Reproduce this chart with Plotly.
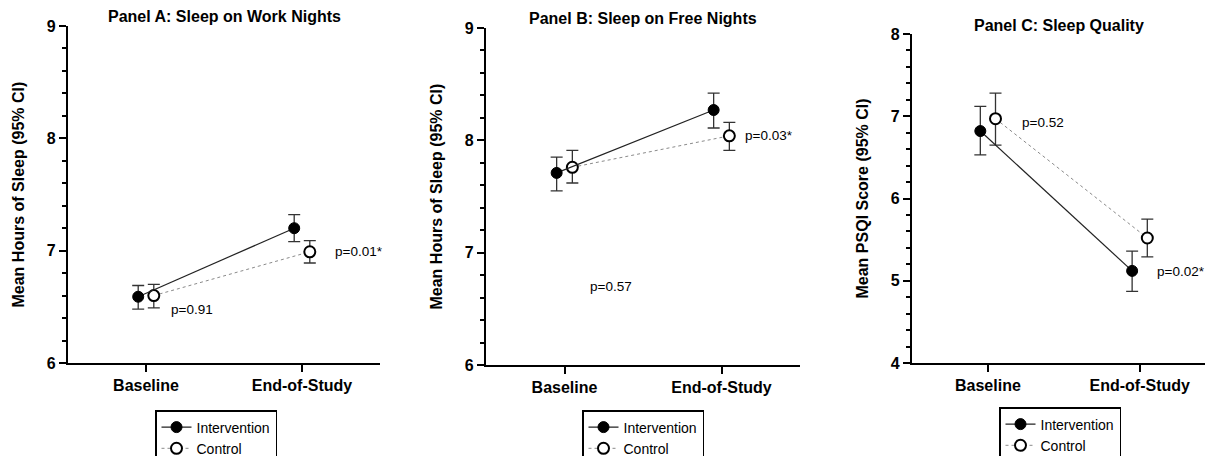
import numpy as np
import plotly.graph_objects as go

# ---- data ----
timepoints = ['Baseline', 'End-of-Study']

a_int_mean = [6.59, 7.20]
a_int_lo = [6.48, 7.08]
a_int_hi = [6.69, 7.32]
a_ctl_mean = [6.60, 6.99]
a_ctl_lo = [6.49, 6.89]
a_ctl_hi = [6.70, 7.09]

b_int_mean = [7.71, 8.27]
b_int_lo = [7.55, 8.11]
b_int_hi = [7.85, 8.42]
b_ctl_mean = [7.76, 8.04]
b_ctl_lo = [7.62, 7.91]
b_ctl_hi = [7.91, 8.16]

c_int_mean = [6.82, 5.12]
c_int_lo = [6.53, 4.87]
c_int_hi = [7.12, 5.36]
c_ctl_mean = [6.97, 5.52]
c_ctl_lo = [6.65, 5.29]
c_ctl_hi = [7.28, 5.75]

p_a = ['p=0.91', 'p=0.01*']
p_b = ['p=0.57', 'p=0.03*']
p_c = ['p=0.52', 'p=0.02*']

titles = ['Panel A: Sleep on Work Nights', 'Panel B: Sleep on Free Nights', 'Panel C: Sleep Quality']
ytitles = ['Mean Hours of Sleep (95% CI)', 'Mean Hours of Sleep (95% CI)', 'Mean PSQI Score (95% CI)']

FONT = 'Liberation Sans, Arial, sans-serif'
W, H = 1205, 456

# pixel layout of each panel: x0, x1, ytop, ybot
boxes = [(68, 380, 26, 363), (486, 800, 28, 365), (912, 1205, 34, 363)]
yranges = [[6, 9], [6, 9], [4, 8]]
xranges = [[-0.5, 1.5], [-0.5, 1.5], [-0.5, 1.43]]
legpos = [(155, 410), (582, 410), (999, 407)]
# p-value label positions in data coords
p_pos = [[(0.15, 6.48), (1.2, 6.99)],
         [(0.15, 6.70), (1.14, 8.04)],
         [(0.21, 6.92), (1.10, 5.11)]]

panels = [
    (a_int_mean, a_int_lo, a_int_hi, a_ctl_mean, a_ctl_lo, a_ctl_hi, p_a),
    (b_int_mean, b_int_lo, b_int_hi, b_ctl_mean, b_ctl_lo, b_ctl_hi, p_b),
    (c_int_mean, c_int_lo, c_int_hi, c_ctl_mean, c_ctl_lo, c_ctl_hi, p_c),
]

fig = go.Figure()
xi = np.arange(len(timepoints))
off = 0.05
annotations = []

for k, (im, il, ih, cm, cl, ch, pv) in enumerate(panels):
    sfx = '' if k == 0 else str(k + 1)
    xa, ya = 'x' + sfx, 'y' + sfx
    leg = 'legend' + sfx
    im, il, ih = np.array(im), np.array(il), np.array(ih)
    cm, cl, ch = np.array(cm), np.array(cl), np.array(ch)

    fig.add_trace(go.Scatter(
        x=xi + off, y=cm, mode='lines+markers', name='Control',
        line=dict(color='#8a8a8a', width=1, dash='dot'),
        marker=dict(size=11, color='white', line=dict(color='black', width=2)),
        error_y=dict(type='data', symmetric=False, array=ch - cm, arrayminus=cm - cl,
                     color='#333333', thickness=1.3, width=6),
        xaxis=xa, yaxis=ya, legend=leg, legendrank=2))
    fig.add_trace(go.Scatter(
        x=xi - off, y=im, mode='lines+markers', name='Intervention',
        line=dict(color='#222222', width=1.2),
        marker=dict(size=11, color='black', line=dict(color='black', width=1)),
        error_y=dict(type='data', symmetric=False, array=ih - im, arrayminus=im - il,
                     color='#333333', thickness=1.3, width=6),
        xaxis=xa, yaxis=ya, legend=leg, legendrank=1))

    x0, x1, yt, yb = boxes[k]
    dom_x = [x0 / W, x1 / W]
    dom_y = [1 - yb / H, 1 - yt / H]
    axis_common = dict(showline=True, linecolor='black', linewidth=2.2,
                       ticks='outside', tickcolor='black', tickwidth=2, ticklen=7,
                       showgrid=False, zeroline=False, automargin=False,
                       tickfont=dict(family=FONT, size=16, color='black', weight='bold'))
    fig.update_layout(**{
        'xaxis' + sfx: dict(domain=dom_x, range=xranges[k], tickvals=list(xi), ticktext=timepoints,
                            anchor=ya, **axis_common),
        'yaxis' + sfx: dict(domain=dom_y, range=yranges[k], tickmode='linear', tick0=0, dtick=1, anchor=xa,
                            minor=dict(ticks='outside', ticklen=4, tickwidth=2, tickcolor='black',
                                       tickmode='linear', tick0=0, dtick=0.2, showgrid=False),
                            **axis_common),
        leg: dict(x=legpos[k][0] / W, y=1 - legpos[k][1] / H, xanchor='left', yanchor='top',
                  bordercolor='black', borderwidth=1.5, bgcolor='white',
                  font=dict(family=FONT, size=14, color='black'),
                  tracegroupgap=0, itemwidth=30),
    })

    # panel title
    annotations.append(dict(text='<b>' + titles[k] + '</b>', xref='paper', yref='paper',
                            x=(x0 + x1) / 2 / W, y=1 - (yt - 9) / H, xanchor='center', yanchor='middle',
                            showarrow=False, font=dict(family=FONT, size=16, color='black')))
    # y-axis title
    annotations.append(dict(text='<b>' + ytitles[k] + '</b>', xref='paper', yref='paper',
                            x=(x0 - 50) / W, y=1 - (yt + yb) / 2 / H, xanchor='center', yanchor='middle',
                            textangle=-90, showarrow=False,
                            font=dict(family=FONT, size=16, color='black')))
    for t, (px, py) in zip(pv, p_pos[k]):
        annotations.append(dict(text=t, xref=xa, yref=ya, x=px, y=py, xanchor='left', yanchor='middle',
                                showarrow=False, font=dict(family=FONT, size=13.5, color='black')))

fig.update_layout(
    width=W, height=H,
    margin=dict(l=0, r=0, t=0, b=0, autoexpand=False),
    paper_bgcolor='white', plot_bgcolor='white',
    font=dict(family=FONT, color='black'),
    annotations=annotations,
    showlegend=True,
)

fig.write_html('out.html', config={'displayModeBar': False},
               post_script="document.body.style.margin='0';")
